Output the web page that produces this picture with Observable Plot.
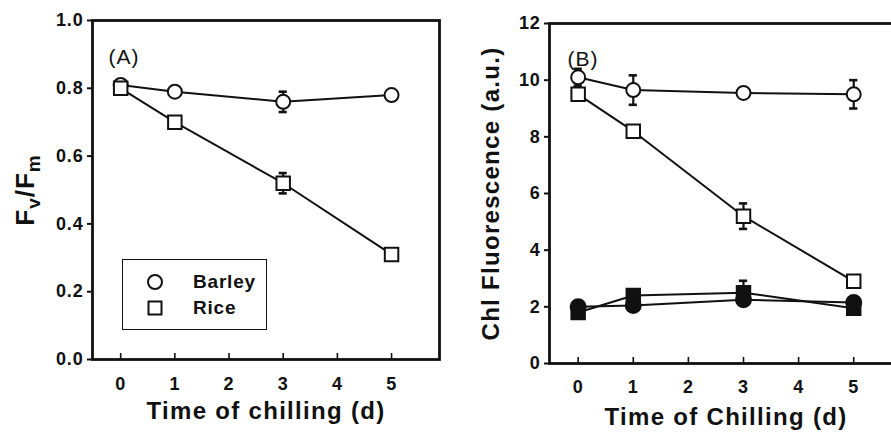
<!DOCTYPE html>
<html>
<head>
<meta charset="utf-8">
<script src="https://cdn.jsdelivr.net/npm/d3@7"></script>
<script src="https://cdn.jsdelivr.net/npm/@observablehq/plot@0.6"></script>
<style>
  html, body { margin: 0; padding: 0; background: #fff; overflow: hidden; }
  #wrap { position: relative; width: 891px; height: 439px; overflow: hidden; background: #fff; }
  .panel { position: absolute; top: 0; }
  #legend { position: absolute; left: 122px; top: 259px; width: 143px; height: 69px; border: 1.3px solid #111; background: #fff;
    font-family: "Liberation Sans", Arial, sans-serif; font-weight: bold; font-size: 19px; letter-spacing: 0.8px; color: #111; }
  #legend svg { position: absolute; left: 0; top: 0; }
  #legend .lab { position: absolute; left: 70px; line-height: 1; }
</style>
</head>
<body>
<div id="wrap"></div>
<script>
// ---- data ----
const days = [0, 1, 3, 5];
const xTicks = [0, 1, 2, 3, 4, 5];
const yTicksA = [0, 0.2, 0.4, 0.6, 0.8, 1.0];
const yTicksB = [0, 2, 4, 6, 8, 10, 12];

// Panel A: Fv/Fm
const barleyA = [0.81, 0.79, 0.76, 0.78];
const barleyAErr = [0.01, 0, 0.03, 0];
const riceA = [0.80, 0.70, 0.52, 0.31];
const riceAErr = [0, 0, 0.03, 0];

// Panel B: Chl fluorescence (a.u.)
const barleyOpenB = [10.1, 9.65, 9.55, 9.5];
const barleyOpenBErr = [0.3, 0.52, 0, 0.5];
const riceOpenB = [9.5, 8.2, 5.2, 2.9];
const riceOpenBErr = [0, 0, 0.45, 0];
const barleyFilledB = [2.0, 2.05, 2.25, 2.15];
const barleyFilledBErr = [0, 0, 0, 0];
const riceFilledB = [1.8, 2.4, 2.5, 1.95];
const riceFilledBErr = [0, 0, 0.42, 0];

const FONT = '"Liberation Sans", Arial, sans-serif';

function rows(vals, errs) {
  return days.map((d, i) => ({day: d, v: vals[i], e: errs[i]}));
}

function seriesMarks(data, symbol, fill, r) {
  const withErr = data.filter(d => d.e > 0);
  return [
    Plot.line(data, {x: "day", y: "v", stroke: "#111", strokeWidth: 2}),
    Plot.ruleX(withErr, {x: "day", y1: d => d.v - d.e, y2: d => d.v + d.e, stroke: "#111", strokeWidth: 2.2}),
    Plot.ruleY(withErr, {y: d => d.v + d.e, x1: d => d.day - 0.075, x2: d => d.day + 0.075, stroke: "#111", strokeWidth: 2.6}),
    Plot.ruleY(withErr, {y: d => d.v - d.e, x1: d => d.day - 0.075, x2: d => d.day + 0.075, stroke: "#111", strokeWidth: 2.6}),
    Plot.dot(data, {x: "day", y: "v", symbol, r, fill, stroke: "#111", strokeWidth: 2})
  ];
}

function panel({width, marginLeft, marginRight, marginTop, marginBottom, yDomain, yTicks, yFormat, ylabel, ylabelDx, xlabel, xlabelDy, xTickPad, tag, tagDx, tagDy, series}) {
  return Plot.plot({
    width, height: 439, marginLeft, marginRight, marginTop, marginBottom,
    style: {fontFamily: FONT, fontSize: "18px", fontWeight: "bold", color: "#111", background: "white", overflow: "visible", letterSpacing: "0.8px"},
    x: {domain: [-0.52, 5.885]},
    y: {domain: yDomain},
    marks: [
      Plot.axisY({ticks: yTicks, tickFormat: yFormat, tickSize: 5, tickPadding: 4, strokeWidth: 2, label: null}),
      Plot.axisX({ticks: xTicks, tickSize: 6, dy: -6, tickFormat: () => "", strokeWidth: 1.6, label: null}),
      Plot.axisX({ticks: xTicks, tickFormat: d3.format("d"), tickSize: 0, tickPadding: xTickPad, label: null}),
      Plot.frame({stroke: "#111", strokeWidth: 2.8}),
      ...series,
      Plot.text([ylabel], {frameAnchor: "left", textAnchor: "middle", dx: ylabelDx, rotate: -90, fontSize: 24, fontWeight: "bold", fill: "#111"}),
      Plot.text([xlabel], {frameAnchor: "bottom", textAnchor: "middle", dy: xlabelDy, fontSize: 24, fontWeight: "bold", fill: "#111"}),
      Plot.text([tag], {frameAnchor: "top-left", textAnchor: "start", dx: tagDx, dy: tagDy, fontSize: 21, fontWeight: "normal", fill: "#111"})
    ]
  });
}

const pA = panel({
  width: 445, marginLeft: 92, marginRight: 6, marginTop: 20, marginBottom: 80,
  yDomain: [0, 1], yTicks: yTicksA, yFormat: d3.format(".1f"),
  ylabel: "Fv/Fm", ylabelDx: -67, xlabel: "Time of chilling (d)", xlabelDy: 59, xTickPad: 18,
  tag: "(A)", tagDx: 16, tagDy: 29,
  series: [
    ...seriesMarks(rows(barleyA, barleyAErr), "circle", "white", 7),
    ...seriesMarks(rows(riceA, riceAErr), "square", "white", 7.6)
  ]
});

const pB = panel({
  width: 460, marginLeft: 104, marginRight: 3, marginTop: 23, marginBottom: 76,
  yDomain: [0, 12], yTicks: yTicksB, yFormat: d3.format("d"),
  ylabel: "Chl Fluorescence (a.u.)", ylabelDx: -58, xlabel: "Time of Chilling (d)", xlabelDy: 61, xTickPad: 17,
  tag: "(B)", tagDx: 18, tagDy: 28,
  series: [
    ...seriesMarks(rows(riceFilledB, riceFilledBErr), "square", "#111", 7.6),
    ...seriesMarks(rows(barleyFilledB, barleyFilledBErr), "circle", "#111", 7.5),
    ...seriesMarks(rows(riceOpenB, riceOpenBErr), "square", "white", 7.6),
    ...seriesMarks(rows(barleyOpenB, barleyOpenBErr), "circle", "white", 7)
  ]
});

const wrap = document.getElementById("wrap");
pA.classList.add("panel"); pA.style.left = "0px";
pB.classList.add("panel"); pB.style.left = "445px";
wrap.appendChild(pA);
wrap.appendChild(pB);

// title letter spacing
[pA, pB].forEach(svg => {
  svg.querySelectorAll("text").forEach(t => {
    const s = t.textContent;
    if (s.startsWith("Time") || s.startsWith("Chl")) t.setAttribute("letter-spacing", "1.3px");
    if (s === "(A)" || s === "(B)") t.setAttribute("letter-spacing", "1px");
  });
});

// Fv/Fm with subscripts
pA.querySelectorAll("text").forEach(t => {
  if (t.textContent === "Fv/Fm") {
    t.textContent = "";
    t.setAttribute("font-size", "26");
    t.setAttribute("letter-spacing", "1px");
    const parts = [["F", 0, null], ["v", 6, "19"], ["/", -6, null], ["F", 0, null], ["m", 6, "19"]];
    parts.forEach(([txt, dy, fs]) => {
      const ts = document.createElementNS("http://www.w3.org/2000/svg", "tspan");
      ts.textContent = txt;
      if (dy) ts.setAttribute("dy", dy);
      if (fs) ts.setAttribute("font-size", fs);
      t.appendChild(ts);
    });
  }
});

// legend (panel A)
const legendItems = [{name: "Barley", symbol: "circle"}, {name: "Rice", symbol: "square"}];
const leg = document.createElement("div");
leg.id = "legend";
const ns = "http://www.w3.org/2000/svg";
const lsvg = document.createElementNS(ns, "svg");
lsvg.setAttribute("width", 143); lsvg.setAttribute("height", 69);
legendItems.forEach((it, i) => {
  const cy = 22 + i * 26;
  let el;
  if (it.symbol === "circle") {
    el = document.createElementNS(ns, "circle");
    el.setAttribute("cx", 32); el.setAttribute("cy", cy); el.setAttribute("r", 7);
  } else {
    el = document.createElementNS(ns, "rect");
    el.setAttribute("x", 25.5); el.setAttribute("y", cy - 6.5); el.setAttribute("width", 13); el.setAttribute("height", 13);
  }
  el.setAttribute("fill", "white"); el.setAttribute("stroke", "#111"); el.setAttribute("stroke-width", 2);
  lsvg.appendChild(el);
  const lab = document.createElement("div");
  lab.className = "lab";
  lab.textContent = it.name;
  lab.style.top = (cy - 10) + "px";
  leg.appendChild(lab);
});
leg.insertBefore(lsvg, leg.firstChild);
wrap.appendChild(leg);
</script>
</body>
</html>
